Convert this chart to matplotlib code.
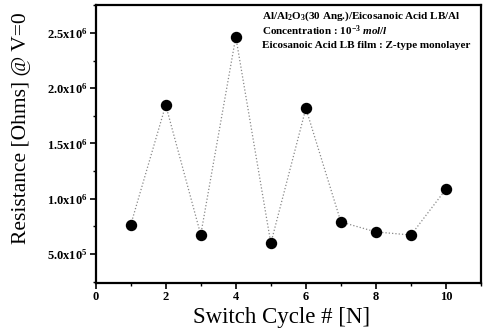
import matplotlib.pyplot as plt
import numpy as np
from matplotlib.ticker import FuncFormatter, MultipleLocator

plt.rcParams['font.family'] = 'Liberation Serif'
plt.rcParams['mathtext.fontset'] = 'custom'
plt.rcParams['mathtext.rm'] = 'Liberation Serif:bold'
plt.rcParams['mathtext.bf'] = 'Liberation Serif:bold'
plt.rcParams['mathtext.it'] = 'Liberation Serif:bold:italic'
plt.rcParams['mathtext.default'] = 'rm'

# switch cycle vs resistance at V=0
cycle = [1, 2, 3, 4, 5, 6, 7, 8, 9, 10]
resistance = [7.62e5, 1.848e6, 6.75e5, 2.464e6, 5.97e5, 1.818e6, 7.9e5, 7.0e5, 6.72e5, 1.088e6]

info = ["Al/Al$_2$O$_3$(30 Ang.)/Eicosanoic Acid LB/Al",
        "Concentration : 10$^{-3}$ $\\it{mol/l}$",
        "Eicosanoic Acid LB film : Z-type monolayer"]

fig = plt.figure(figsize=(4.83, 3.32), dpi=100)
ax = fig.add_axes([0.198, 0.1476, 0.798, 0.8374])

ax.plot(cycle, resistance, linestyle=':', color='#888888', linewidth=0.9,
        marker='o', markersize=7.2, markerfacecolor='black', markeredgecolor='black')

ax.set_xlim(0, 11)
ax.set_ylim(2.38e5, 2.753e6)
ax.xaxis.set_major_locator(MultipleLocator(2))
ax.xaxis.set_minor_locator(MultipleLocator(1))
ax.yaxis.set_major_locator(MultipleLocator(5e5))
ax.yaxis.set_minor_locator(MultipleLocator(2.5e5))


def sci(v, pos):
    if v <= 0:
        return ''
    e = int(np.floor(np.log10(v) + 1e-9))
    m = v / 10 ** e
    return "%.1fx10$^{%d}$" % (m, e)


ax.yaxis.set_major_formatter(FuncFormatter(sci))

for s in ax.spines.values():
    s.set_linewidth(1.6)
ax.tick_params(which='major', direction='out', length=4, width=1.2, labelsize=9, pad=2)
ax.tick_params(which='minor', direction='out', length=2.5, width=1.0)
for lab in ax.get_xticklabels() + ax.get_yticklabels():
    lab.set_fontweight('bold')

ax.set_xlabel("Switch Cycle # [N]", fontsize=16.5)
ax.set_ylabel("Resistance [Ohms] @ V=0", fontsize=15.5)
ax.xaxis.set_label_coords(0.483, -0.088)
ax.yaxis.set_label_coords(-0.168, 0.558)

for i, t in enumerate(info):
    fig.text(262 / 483, 1 - (16 + 15 * i) / 332, t, fontsize=8, fontweight='bold',
             va='center', ha='left')

fig.savefig('out.png', dpi=100)
